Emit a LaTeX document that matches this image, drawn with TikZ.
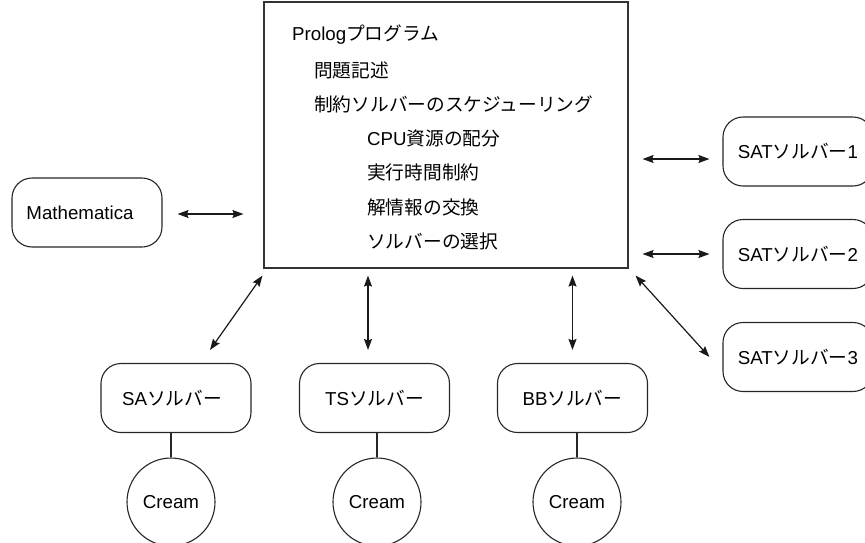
\documentclass[tikz,border=0pt]{standalone}
\usepackage{fontspec}
\setmainfont{Liberation Sans}
\newfontfamily\jp{Noto Sans CJK JP}
\usetikzlibrary{arrows.meta,calc}
\begin{document}
\begin{tikzpicture}[x=1pt,y=-1pt,
  every node/.style={font=\fontsize{18.7}{22}\selectfont},
  rbox/.style={draw=black!85, line width=1.1pt, rounded corners=20pt, minimum width=150pt, minimum height=69pt, inner sep=0pt},
  cbox/.style={draw=black!85, line width=1.1pt, circle, minimum size=88pt, inner sep=0pt},
  mainbox/.style={draw=black!80, line width=1.1pt, minimum width=364pt, minimum height=266pt, inner sep=0pt},
  txt/.style={anchor=west, inner sep=0pt},
  arr/.style={{Stealth[length=11pt,width=8pt,inset=1.5pt]}-{Stealth[length=11pt,width=8pt,inset=1.5pt]}, line width=1.2pt, draw=black!90},
  ln/.style={line width=1.1pt, draw=black!85}]
\useasboundingbox (0,0) rectangle (865,542);
\clip (0,0) rectangle (865,542);

\node[mainbox] (main) at (446,135) {};
\node[txt] (t1) at (292,35) {Prolog{\jp プログラム}};
\node[txt] (t2) at (314,70) {\jp 問題記述};
\node[txt] (t3) at (314,104) {\jp 制約ソルバーのスケジューリング};
\node[txt] (t4) at (367,138) {CPU{\jp 資源の配分}};
\node[txt] (t5) at (367,172) {\jp 実行時間制約};
\node[txt] (t6) at (367,207) {\jp 解情報の交換};
\node[txt] (t7) at (367,241) {\jp ソルバーの選択};

\node[rbox] (math) at (87,212.5) {Mathematica\kern14pt};
\node[rbox] (sat1) at (798,151.5) {SAT{\jp ソルバー}1};
\node[rbox] (sat2) at (798,254) {SAT{\jp ソルバー}2};
\node[rbox] (sat3) at (798,357) {SAT{\jp ソルバー}3};

\node[rbox] (sa) at (176,398) {SA{\jp ソルバー}\kern8pt};
\node[rbox] (ts) at (374.5,398) {TS{\jp ソルバー}};
\node[rbox] (bb) at (572.5,398) {BB{\jp ソルバー}};

\node[cbox] (c1) at (171,502) {Cream};
\node[cbox] (c2) at (377,502) {Cream};
\node[cbox] (c3) at (577,502) {Cream};

\draw[ln] (c1.north) -- (c1.north |- sa.south);
\draw[ln] (c2.north) -- (c2.north |- ts.south);
\draw[ln] (c3.north) -- (c3.north |- bb.south);

\draw[arr] ($(math.east)+(15,1.5)$) -- ($(main.west |- math.east)+(-20,1.5)$);
\draw[arr] ($(main.east |- sat1.west)+(14,7.5)$) -- ($(sat1.west)+(-13,7.5)$);
\draw[arr] ($(main.east |- sat2.west)+(14,0)$) -- ($(sat2.west)+(-13,0)$);
\draw[arr] ($(main.south east)+(7,7)$) -- ($(sat3.west)+(-13,0)$);
\draw[arr] ($(main.south west)+(-1,7)$) -- ($(sa.north)+(34,-13)$);
\draw[arr] ($(main.south -| ts.north)+(-6.5,7)$) -- ($(ts.north)+(-6.5,-13)$);
\draw[arr] ($(main.south -| bb.north)+(0,7)$) -- ($(bb.north)+(0,-13)$);
\end{tikzpicture}
\end{document}
